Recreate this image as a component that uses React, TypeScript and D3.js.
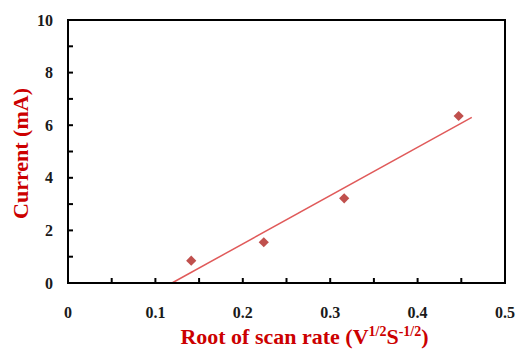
import { useEffect, useRef } from "react";
import * as d3 from "d3";

// scan rate roots (V^1/2 s^-1/2) and peak currents (mA)
const rootScanRate = [0.141, 0.224, 0.316, 0.447];
const current = [0.85, 1.55, 3.22, 6.35];
const xTicks = [0, 0.1, 0.2, 0.3, 0.4, 0.5];
const yTicks = [0, 2, 4, 6, 8, 10];
const xMinor = [0.05, 0.1, 0.15, 0.2, 0.25, 0.3, 0.35, 0.4, 0.45];
const yMinor = [1, 2, 3, 4, 5, 6, 7, 8, 9];
const trendEnd = 0.462;

const App = () => {
  const ref = useRef<SVGSVGElement>(null);

  useEffect(() => {
    const width = 517, height = 349;
    const margin = { top: 20, right: 12, bottom: 66, left: 68 };
    const serif = "'Liberation Serif', 'Times New Roman', Times, serif";

    const svg = d3.select(ref.current);
    svg.selectAll("*").remove();
    svg.attr("width", width).attr("height", height);

    const x = d3.scaleLinear().domain([0, 0.5]).range([margin.left, width - margin.right]);
    const y = d3.scaleLinear().domain([0, 10]).range([height - margin.bottom, margin.top]);

    const g = svg.append("g");

    // least squares fit for the trendline
    const mx = d3.mean(rootScanRate)!;
    const my = d3.mean(current)!;
    const sxy = d3.sum(rootScanRate, (v, i) => (v - mx) * (current[i] - my));
    const sxx = d3.sum(rootScanRate, v => (v - mx) ** 2);
    const slope = sxy / sxx;
    const icept = my - slope * mx;
    const x0 = -icept / slope;

    g.append("line")
      .attr("x1", x(x0)).attr("y1", y(0))
      .attr("x2", x(trendEnd)).attr("y2", y(slope * trendEnd + icept))
      .attr("stroke", "#e05a5a")
      .attr("stroke-width", 1.5);

    // diamonds (rotated squares)
    g.selectAll("path.pt")
      .data(rootScanRate)
      .join("path")
      .attr("class", "pt")
      .attr("d", d3.symbol(d3.symbolSquare, 52)())
      .attr("transform", (d, i) => `translate(${x(d)},${y(current[i])}) rotate(45)`)
      .attr("fill", "#c0504d");

    // frame
    g.append("rect")
      .attr("x", margin.left).attr("y", margin.top)
      .attr("width", width - margin.right - margin.left)
      .attr("height", height - margin.bottom - margin.top)
      .attr("fill", "none")
      .attr("stroke", "#000")
      .attr("stroke-width", 2);

    // inside ticks
    g.selectAll("line.xm")
      .data(xMinor)
      .join("line")
      .attr("class", "xm")
      .attr("x1", d => x(d)).attr("x2", d => x(d))
      .attr("y1", y(0)).attr("y2", y(0) - 5)
      .attr("stroke", "#000")
      .attr("stroke-width", 2);

    g.selectAll("line.ym")
      .data(yMinor)
      .join("line")
      .attr("class", "ym")
      .attr("x1", x(0)).attr("x2", x(0) + 5)
      .attr("y1", d => y(d)).attr("y2", d => y(d))
      .attr("stroke", "#000")
      .attr("stroke-width", 2);

    // tick labels
    g.selectAll("text.xt")
      .data(xTicks)
      .join("text")
      .attr("class", "xt")
      .attr("x", d => x(d))
      .attr("y", 318)
      .attr("text-anchor", "middle")
      .style("font-family", serif)
      .attr("font-weight", "bold")
      .attr("font-size", 16)
      .attr("fill", "#1a1a1a")
      .text(d => String(d));

    g.selectAll("text.yt")
      .data(yTicks)
      .join("text")
      .attr("class", "yt")
      .attr("x", 53)
      .attr("y", d => y(d))
      .attr("dy", "0.35em")
      .attr("text-anchor", "end")
      .style("font-family", serif)
      .attr("font-weight", "bold")
      .attr("font-size", 16)
      .attr("fill", "#1a1a1a")
      .text(d => String(d));

    // axis titles
    g.append("text")
      .attr("transform", `translate(28,${(margin.top + height - margin.bottom) / 2 + 2}) rotate(-90)`)
      .attr("text-anchor", "middle")
      .style("font-family", serif)
      .attr("font-weight", "bold")
      .attr("font-size", 22)
      .attr("fill", "#cc0000")
      .text("Current (mA)");

    const xt = g.append("text")
      .attr("x", (margin.left + width - margin.right) / 2 + 18)
      .attr("y", 344)
      .attr("text-anchor", "middle")
      .style("font-family", serif)
      .attr("font-weight", "bold")
      .attr("font-size", 22)
      .attr("fill", "#cc0000");
    xt.append("tspan").text("Root of scan rate (V");
    xt.append("tspan").attr("font-size", 14).attr("dy", -8).text("1/2");
    xt.append("tspan").attr("dy", 8).text("S");
    xt.append("tspan").attr("font-size", 14).attr("dy", -8).text("-1/2");
    xt.append("tspan").attr("dy", 8).text(")");
  }, []);

  return <svg ref={ref} style={{ position: "absolute", left: 0, top: 0 }}></svg>;
};

export default App;
